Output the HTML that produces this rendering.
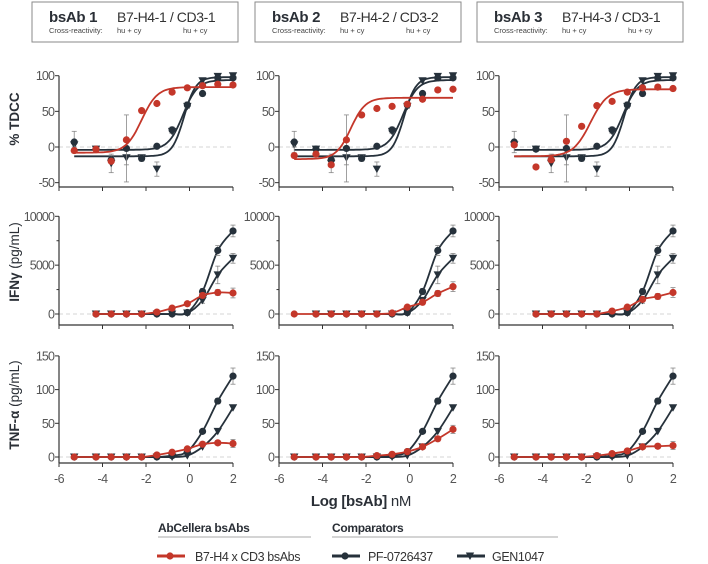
<!DOCTYPE html>
<html><head><meta charset="utf-8">
<style>
html,body{margin:0;padding:0;background:#fff;}
svg{display:block;font-family:"Liberation Sans",sans-serif;}
</style></head>
<body>
<svg id="fig" width="708" height="564" viewBox="0 0 708 564" xmlns="http://www.w3.org/2000/svg"></svg>
<script>
// ---- data ----
const xLog = [-5.3,-4.3,-3.6,-2.9,-2.2,-1.5,-0.8,-0.1,0.6,1.3,2];
const panelNames = ["bsAb 1","bsAb 2","bsAb 3"];
const panelTargets = ["B7-H4-1 / CD3-1","B7-H4-2 / CD3-2","B7-H4-3 / CD3-1"];
// TDCC points
const tdccPF  = [7,-3,-18,-2,-16,1,24,59,75,97,97];
const tdccPFerr = [15,3,4,47,4,3,4,4,3,3,3];
const tdccGEN = [3,-3,-23,-15,-15,-31,22,57,93,99,100];
const tdccGENerr = [3,3,13,10,3,10,3,3,3,3,3];
const tdccRed1 = [-5,-3,-20,10,51,61,77,83,86,88,87];
const tdccRed2 = [-12,-10,-25,10,45,54,57,60,67,80,81];
const tdccRed3 = [3,-28,-18,8,29,58,64,77,83,84,82];
// 4PL fits: [bottom, top, logEC50, hill]
const fitPF = [-4,94,-0.3,1.3];
const fitGEN = [-13,98,-0.25,1.6];
const fitRed1 = [-8,84,-2.2,1.2];
const fitRed2 = [-17,69,-2.7,1.3];
const fitRed3 = [-13,81,-1.8,1.1];
// IFNg points (null = not measured)
const ifnPF  = [null,0,0,0,0,0,0,150,2300,6500,8500];
const ifnPFerr = [0,0,0,0,0,0,0,100,300,500,600];
const ifnGEN = [null,0,0,0,0,0,0,100,1400,4000,5700];
const ifnGENerr = [0,0,0,0,0,0,0,100,300,900,500];
const ifnRed1 = [null,0,0,0,0,200,600,1050,1900,2200,2150];
const ifnRed2 = [0,0,0,0,0,0,100,700,1200,2100,2800];
const ifnRed3 = [null,0,0,0,0,0,300,700,1500,1800,2200];
const ifnRedErr = [0,0,0,0,0,0,100,150,250,300,500];
// TNFa points
const tnfPF  = [0,0,0,0,0,0,2,8,38,83,120];
const tnfPFerr = [0,0,0,0,0,0,0,1,3,4,12];
const tnfGEN = [0,0,0,0,0,0,0,2,15,38,73];
const tnfRed1 = [0,0,0,0,0,3,7,12,19,21,20];
const tnfRed2 = [0,0,0,0,0,2,4,8,15,27,41];
const tnfRed3 = [0,0,0,0,0,2,5,9,15,16,17];
const tnfRedErr = [0,0,0,0,0,1,1,2,2,3,6];
const tdccTicks = [100,50,0,-50];
const ifnTicks = [10000,5000,0];
const tnfTicks = [150,100,50,0];
const xTicks = [-6,-4,-2,0,2];

const RED="#c4372a", DARK="#26313b", GRAY="#555";
const svg=document.getElementById('fig');
const NS="http://www.w3.org/2000/svg";
function mk(tag,attrs,parent){const e=document.createElementNS(NS,tag);for(const k in attrs)e.setAttribute(k,attrs[k]);(parent||svg).appendChild(e);return e;}

const panelX=[59,279,499], panelW=174;
function xs(p,v){return panelX[p]+(v+6)/8*panelW;}
const rows=[
 {name:"tdcc",y0:147,scale:0.713,axisY:187,top:100,ticks:tdccTicks,minor:[]},
 {name:"ifn",y0:314,scale:0.00977,axisY:325,top:10000,ticks:ifnTicks,minor:[7500,2500]},
 {name:"tnf",y0:457,scale:0.674,axisY:463,top:150,ticks:tnfTicks,minor:[]}
];
function ys(r,v){return r.y0-v*r.scale;}

// header boxes
const boxX=[32,255,477];
for(let p=0;p<3;p++){
  const g=mk('g',{});
  
  
  mk('rect',{x:boxX[p],y:2,width:206,height:40,fill:"#fff",stroke:"#8a8a8a","stroke-width":1},g);
  const t1=mk('text',{x:boxX[p]+17,y:22,"font-size":15,"font-weight":"bold",fill:"#2a2f36","letter-spacing":"-0.3"},g);t1.textContent=panelNames[p];
  const t2=mk('text',{x:boxX[p]+85,y:22,"font-size":14,fill:"#333","letter-spacing":"-0.4"},g);t2.textContent=panelTargets[p];
  const t3=mk('text',{x:boxX[p]+17,y:33,"font-size":7.5,fill:"#444"},g);t3.textContent="Cross-reactivity:";
  const t4=mk('text',{x:boxX[p]+85,y:33,"font-size":7.5,fill:"#444"},g);t4.textContent="hu + cy";
  const t5=mk('text',{x:boxX[p]+151,y:33,"font-size":7.5,fill:"#444"},g);t5.textContent="hu + cy";
}

function marker(g,type,x,y,color){
  if(type==='c') mk('circle',{cx:x,cy:y,r:3.6,fill:color},g);
  else mk('path',{d:`M${x-4.2},${y-3.5}L${x+4.2},${y-3.5}L${x},${y+4}Z`,fill:color},g);
}
function errbar(g,x,yl,yh){
  mk('line',{x1:x,y1:yl,x2:x,y2:yh,stroke:"#888","stroke-width":0.8},g);
  mk('line',{x1:x-2.5,y1:yl,x2:x+2.5,y2:yl,stroke:"#888","stroke-width":0.8},g);
  mk('line',{x1:x-2.5,y1:yh,x2:x+2.5,y2:yh,stroke:"#888","stroke-width":0.8},g);
}
function fourPL(f,x){return f[0]+(f[1]-f[0])/(1+Math.pow(10,(f[2]-x)*f[3]));}
function smoothPath(pts){
  let d=`M${pts[0][0]},${pts[0][1]}`;
  for(let i=0;i<pts.length-1;i++){
    const p0=pts[i-1]||pts[i],p1=pts[i],p2=pts[i+1],p3=pts[i+2]||p2;
    const c1=[p1[0]+(p2[0]-p0[0])/6,p1[1]+(p2[1]-p0[1])/6];
    const c2=[p2[0]-(p3[0]-p1[0])/6,p2[1]-(p3[1]-p1[1])/6];
    d+=`C${c1[0]},${c1[1]} ${c2[0]},${c2[1]} ${p2[0]},${p2[1]}`;
  }
  return d;
}

function drawAxes(p,r){
  const g=mk('g',{});
  
  
  const x0=panelX[p];
  mk('line',{x1:x0,y1:ys(r,0),x2:x0+panelW,y2:ys(r,0),stroke:"#d5d5d5","stroke-width":1,"stroke-dasharray":"4,3"},g);
  mk('line',{x1:x0,y1:ys(r,r.top),x2:x0,y2:r.axisY,stroke:"#333","stroke-width":1.2},g);
  mk('line',{x1:x0,y1:r.axisY,x2:x0+panelW,y2:r.axisY,stroke:"#333","stroke-width":1.2},g);
  r.ticks.forEach(t=>{
    const y=ys(r,t);
    mk('line',{x1:x0-4,y1:y,x2:x0,y2:y,stroke:"#333","stroke-width":1},g);
    const tx=mk('text',{x:x0-5,y:y+4.5,"font-size":12.5,"text-anchor":"end",fill:GRAY,"letter-spacing":"-0.9"},g);tx.textContent=t;
  });
  r.minor.forEach(t=>{const y=ys(r,t);mk('line',{x1:x0-2.5,y1:y,x2:x0,y2:y,stroke:"#333","stroke-width":1},g);});
  xTicks.forEach(t=>{
    const x=xs(p,t);
    mk('line',{x1:x,y1:r.axisY,x2:x,y2:r.axisY+4,stroke:"#333","stroke-width":1},g);
    if(r.name==='tnf'){const tx=mk('text',{x:x,y:r.axisY+20,"font-size":12.5,"text-anchor":"middle",fill:GRAY,"letter-spacing":"-0.6"},g);tx.textContent=t;}
  });
}

function drawSeries(p,r,name,vals,errs,type,color,fit){
  const g=mk('g',{});
  
  
  if(fit){
    let d="";
    for(let i=0;i<=80;i++){const xv=-5.3+i*(7.3/80);d+=(i?"L":"M")+xs(p,xv).toFixed(1)+","+ys(r,fourPL(fit,xv)).toFixed(1);}
    mk('path',{d:d,fill:"none",stroke:color,"stroke-width":1.8},g);
  }else{
    const pts=[];vals.forEach((v,i)=>{if(v!==null)pts.push([xs(p,xLog[i]),ys(r,v)]);});
    mk('path',{d:smoothPath(pts),fill:"none",stroke:color,"stroke-width":1.8},g);
  }
  vals.forEach((v,i)=>{
    if(v===null)return;
    const x=xs(p,xLog[i]),y=ys(r,v);
    if(errs&&errs[i]>0)errbar(g,x,ys(r,v-errs[i]),ys(r,v+errs[i]));
    marker(g,type,x,y,color);
  });
}

const tdccReds=[tdccRed1,tdccRed2,tdccRed3], fitReds=[fitRed1,fitRed2,fitRed3];
const ifnReds=[ifnRed1,ifnRed2,ifnRed3], tnfReds=[tnfRed1,tnfRed2,tnfRed3];
for(let p=0;p<3;p++){
  drawAxes(p,rows[0]);
  drawSeries(p,rows[0],'gen1047',tdccGEN,tdccGENerr,'t',DARK,fitGEN);
  drawSeries(p,rows[0],'pf0726437',tdccPF,tdccPFerr,'c',DARK,fitPF);
  drawSeries(p,rows[0],'bsab',tdccReds[p],null,'c',RED,fitReds[p]);
  drawAxes(p,rows[1]);
  drawSeries(p,rows[1],'gen1047',ifnGEN,ifnGENerr,'t',DARK,null);
  drawSeries(p,rows[1],'pf0726437',ifnPF,ifnPFerr,'c',DARK,null);
  drawSeries(p,rows[1],'bsab',ifnReds[p],ifnRedErr,'c',RED,null);
  drawAxes(p,rows[2]);
  drawSeries(p,rows[2],'gen1047',tnfGEN,null,'t',DARK,null);
  drawSeries(p,rows[2],'pf0726437',tnfPF,tnfPFerr,'c',DARK,null);
  drawSeries(p,rows[2],'bsab',tnfReds[p],tnfRedErr,'c',RED,null);
}

// y-axis titles
function ytitle(name,cy,bold,rest){
  const t=mk('text',{x:0,y:0,"font-size":13.5,fill:"#2a2f36","text-anchor":"middle",transform:`translate(19,${cy}) rotate(-90)`});
  
  
  const b=mk('tspan',{"font-weight":"bold"},t);b.textContent=bold;
  if(rest){const s=mk('tspan',{},t);s.textContent=rest;}
}
ytitle('y-axis-title-tdcc',119,'% TDCC','');
ytitle('y-axis-title-ifng',262,'IFNγ',' (pg/mL)');
ytitle('y-axis-title-tnfa',405,'TNF-α',' (pg/mL)');

// x-axis title
const xt=mk('text',{x:361,y:506,"font-size":15,"text-anchor":"middle",fill:"#2a2f36","letter-spacing":"-0.3"});


const xb=mk('tspan',{"font-weight":"bold"},xt);xb.textContent="Log [bsAb]";
const xr=mk('tspan',{},xt);xr.textContent=" nM";

// legend
const lg=mk('g',{});


const h1=mk('text',{x:158,y:532,"font-size":12,"font-weight":"bold",fill:"#2a2f36","letter-spacing":"-0.3"},lg);h1.textContent="AbCellera bsAbs";
mk('line',{x1:158,y1:537,x2:311,y2:537,stroke:"#aaa","stroke-width":1},lg);
const h2=mk('text',{x:332,y:532,"font-size":12,"font-weight":"bold",fill:"#2a2f36","letter-spacing":"-0.3"},lg);h2.textContent="Comparators";
mk('line',{x1:332,y1:537,x2:558,y2:537,stroke:"#aaa","stroke-width":1},lg);
function legItem(name,x,type,color,label,tx){
  const g=mk('g',{},lg);
  
  
  mk('line',{x1:x,y1:556,x2:x+28,y2:556,stroke:color,"stroke-width":3},g);
  marker(g,type,x+13,556,color);
  const t=mk('text',{x:tx,y:561,"font-size":12.5,fill:"#333","letter-spacing":"-0.4"},g);t.textContent=label;
}
legItem('legend-entry-bsab',157,'c',RED,'B7-H4 x CD3 bsAbs',195);
legItem('legend-entry-pf0726437',332,'c',DARK,'PF-0726437',368);
legItem('legend-entry-gen1047',457,'t',DARK,'GEN1047',492);
</script>
</body></html>
